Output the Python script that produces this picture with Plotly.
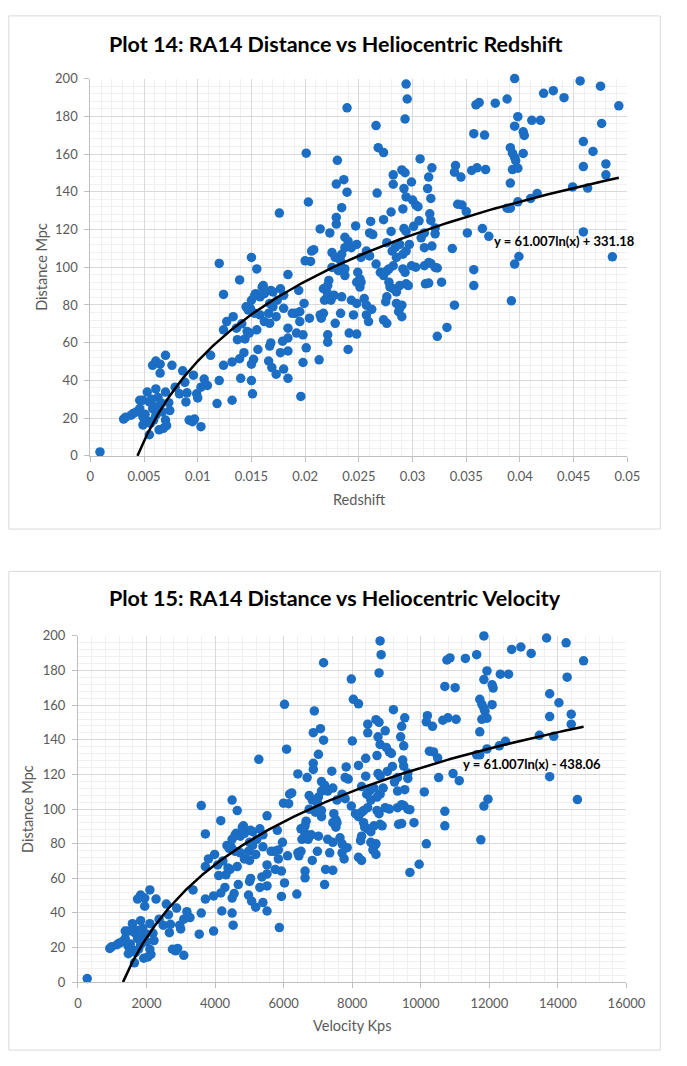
import numpy as np
import plotly.graph_objects as go

# ---------------- data ----------------
# Plot 14: heliocentric redshift (z) vs RA14 distance (Mpc), grouped by redshift band
redshift_a = [0.0009, 0.0031, 0.0033, 0.0038, 0.0040, 0.0043, 0.0046, 0.0046,
              0.0049, 0.0049, 0.0049, 0.0051, 0.0052, 0.0053, 0.0055, 0.0055,
              0.0056, 0.0058, 0.0057, 0.0060, 0.0061, 0.0061, 0.0063, 0.0064,
              0.0064, 0.0066, 0.0067, 0.0068, 0.0070, 0.0071, 0.0070, 0.0073,
              0.0059, 0.0074, 0.0058, 0.0061, 0.0065, 0.0065, 0.0070, 0.0076,
              0.0079, 0.0083, 0.0086, 0.0088, 0.0089, 0.0090, 0.0092, 0.0095,
              0.0096, 0.0097, 0.0099, 0.0100, 0.0103, 0.0103, 0.0106, 0.0109,
              0.0112, 0.0118, 0.0120, 0.0120, 0.0124, 0.0124, 0.0132, 0.0132]
distance_a = [2.1, 19.5, 20.5, 21.6, 22.5, 23.3, 29.5, 25.1,
              20.7, 29.5, 16.4, 22.0, 19.0, 33.8, 28.6, 11.2,
              17.2, 25.1, 30.0, 26.0, 21.6, 35.5, 31.0, 13.8,
              23.7, 28.0, 23.3, 14.6, 19.0, 16.0, 33.8, 28.2,
              19.0, 24.0, 48.0, 50.3, 48.6, 43.9, 53.3, 48.0,
              36.4, 32.9, 45.1, 39.0, 28.6, 33.4, 19.0, 18.1,
              42.8, 19.5, 32.9, 30.7, 15.5, 36.4, 40.7, 37.3,
              53.3, 27.7, 39.9, 102.0, 85.6, 48.0, 29.5, 49.8]

redshift_b = [0.0139, 0.0143, 0.0140, 0.0150, 0.0151, 0.0124, 0.0127, 0.0133,
              0.0136, 0.0137, 0.0139, 0.0141, 0.0144, 0.0146, 0.0149, 0.0145,
              0.0150, 0.0154, 0.0150, 0.0155, 0.0148, 0.0155, 0.0158, 0.0162,
              0.0167, 0.0166, 0.0170, 0.0173, 0.0160, 0.0153, 0.0168, 0.0177,
              0.0161, 0.0158, 0.0162, 0.0170, 0.0180, 0.0174, 0.0167, 0.0147,
              0.0153, 0.0184, 0.0180, 0.0188, 0.0195, 0.0195, 0.0204, 0.0184,
              0.0184, 0.0179, 0.0168, 0.0167, 0.0192, 0.0198, 0.0156, 0.0152,
              0.0150, 0.0177, 0.0184, 0.0166, 0.0169, 0.0173, 0.0180, 0.0184,
              0.0201, 0.0198, 0.0213, 0.0196, 0.0176, 0.0194, 0.0199, 0.0191,
              0.0201, 0.0203, 0.0200, 0.0205, 0.0206, 0.0208]
distance_b = [51.5, 54.7, 41.1, 39.9, 32.9, 66.8, 71.2, 73.8,
              67.7, 61.6, 93.3, 70.0, 62.0, 66.0, 78.2, 79.0,
              82.5, 86.0, 105.2, 99.1, 65.1, 66.8, 74.7, 71.2,
              70.3, 75.6, 79.0, 73.8, 89.5, 85.1, 87.7, 88.6,
              90.3, 84.3, 86.0, 86.9, 85.1, 82.5, 80.8, 77.3,
              75.6, 96.1, 78.2, 75.6, 76.4, 71.2, 73.0, 67.7,
              62.5, 60.8, 59.9, 58.2, 65.1, 64.2, 56.4, 51.2,
              48.6, 54.7, 55.6, 50.3, 46.8, 43.3, 46.0, 41.1,
              57.3, 49.5, 50.9, 31.5, 128.7, 87.7, 80.8, 75.6,
              160.5, 134.6, 103.4, 103.1, 108.6, 109.3]

redshift_c = [0.0214, 0.0223, 0.0229, 0.0229, 0.0237, 0.0240, 0.0243, 0.0248,
              0.0237, 0.0234, 0.0225, 0.0228, 0.0233, 0.0234, 0.0237, 0.0231,
              0.0225, 0.0237, 0.0249, 0.0251, 0.0248, 0.0251, 0.0252, 0.0257,
              0.0260, 0.0252, 0.0247, 0.0239, 0.0230, 0.0236, 0.0229, 0.0239,
              0.0234, 0.0217, 0.0221, 0.0220, 0.0227, 0.0234, 0.0222, 0.0220,
              0.0221, 0.0218, 0.0224, 0.0243, 0.0248, 0.0255, 0.0257, 0.0245,
              0.0257, 0.0259, 0.0262, 0.0214, 0.0217, 0.0215, 0.0221, 0.0221,
              0.0228, 0.0233, 0.0241, 0.0248, 0.0240, 0.0261, 0.0260, 0.0263,
              0.0266, 0.0268, 0.0273, 0.0267]
distance_c = [120.3, 118.2, 126.4, 122.9, 115.9, 113.8, 110.4, 112.1,
              110.4, 106.9, 107.8, 105.2, 103.4, 99.9, 95.6, 98.2,
              99.9, 99.1, 97.3, 93.8, 92.1, 89.5, 92.1, 108.6,
              106.0, 105.2, 121.9, 184.5, 156.7, 146.4, 144.1, 139.8,
              131.6, 88.6, 90.3, 83.4, 85.1, 84.3, 93.0, 89.5,
              86.0, 82.5, 82.5, 82.5, 80.8, 83.4, 79.9, 74.7,
              74.7, 71.2, 77.7, 74.7, 75.6, 73.0, 64.2, 60.3,
              70.3, 75.6, 65.1, 64.6, 56.4, 124.3, 118.2, 117.3,
              175.1, 163.4, 160.8, 139.3]

redshift_d = [0.0294, 0.0295, 0.0293, 0.0307, 0.0318, 0.0315, 0.0282, 0.0290,
              0.0293, 0.0282, 0.0299, 0.0292, 0.0294, 0.0300, 0.0303, 0.0305,
              0.0314, 0.0317, 0.0291, 0.0280, 0.0316, 0.0317, 0.0273, 0.0306,
              0.0280, 0.0292, 0.0294, 0.0301, 0.0308, 0.0321, 0.0318, 0.0276,
              0.0284, 0.0288, 0.0297, 0.0311, 0.0285, 0.0291, 0.0311, 0.0321,
              0.0294, 0.0281, 0.0266, 0.0270, 0.0276, 0.0278, 0.0279, 0.0282,
              0.0288, 0.0294, 0.0293, 0.0299, 0.0303, 0.0311, 0.0315, 0.0321,
              0.0273, 0.0278, 0.0282, 0.0291, 0.0276, 0.0275, 0.0288, 0.0287,
              0.0276, 0.0312, 0.0323, 0.0285, 0.0296, 0.0285, 0.0290, 0.0273,
              0.0290, 0.0317, 0.0323, 0.0315, 0.0327, 0.0339, 0.0332]
distance_d = [197.1, 189.2, 178.6, 157.4, 152.7, 147.8, 149.0, 151.6,
              150.1, 144.0, 145.2, 141.7, 137.3, 135.6, 133.0, 132.1,
              141.7, 136.5, 130.9, 129.3, 128.3, 124.8, 125.2, 124.6,
              119.0, 120.5, 119.0, 121.7, 115.6, 117.7, 111.2, 113.0,
              110.7, 112.1, 112.1, 110.4, 105.2, 106.9, 118.2, 120.8,
              108.6, 108.6, 101.7, 97.3, 98.1, 92.1, 89.5, 88.6,
              90.3, 91.2, 97.3, 100.8, 100.0, 100.8, 102.5, 99.9,
              95.6, 99.1, 100.8, 99.1, 84.3, 81.7, 78.2, 76.4,
              70.3, 91.2, 63.4, 86.9, 90.3, 80.8, 79.9, 72.1,
              73.8, 102.0, 99.6, 91.6, 92.1, 79.9, 68.1]

redshift_e = [0.0357, 0.0357, 0.0392, 0.0399, 0.0395, 0.0486, 0.0351, 0.0365,
              0.0371, 0.0337, 0.0459, 0.0342, 0.0346, 0.0350, 0.0388, 0.0391,
              0.0398, 0.0410, 0.0416, 0.0449, 0.0463, 0.0391, 0.0340, 0.0339,
              0.0345, 0.0355, 0.0360, 0.0368, 0.0393, 0.0398, 0.0459, 0.0480,
              0.0480, 0.0391, 0.0393, 0.0395, 0.0396, 0.0403, 0.0468, 0.0459,
              0.0357, 0.0367, 0.0403, 0.0404, 0.0395, 0.0398, 0.0411, 0.0419,
              0.0476, 0.0359, 0.0362, 0.0377, 0.0388, 0.0422, 0.0431, 0.0441,
              0.0492, 0.0395, 0.0456, 0.0475]
distance_e = [98.7, 90.3, 82.2, 105.7, 101.7, 105.5, 118.2, 120.5,
              116.4, 109.9, 118.7, 133.4, 133.0, 129.5, 131.3, 131.3,
              134.7, 136.5, 139.1, 142.6, 142.0, 144.6, 153.9, 150.4,
              147.8, 151.3, 152.7, 151.8, 151.8, 152.5, 153.4, 154.8,
              149.0, 163.4, 160.5, 158.2, 156.5, 160.3, 161.4, 166.6,
              170.8, 170.1, 171.8, 169.9, 174.8, 179.8, 177.9, 177.9,
              176.2, 186.1, 187.3, 187.0, 189.2, 192.2, 193.6, 189.9,
              185.6, 200.0, 198.8, 196.0]

redshift = redshift_a + redshift_b + redshift_c + redshift_d + redshift_e
distance_mpc = distance_a + distance_b + distance_c + distance_d + distance_e
assert len(redshift) == len(distance_mpc)

# Plot 15 shows the same galaxies with heliocentric velocity = c * z (unit conversion)
SPEED_OF_LIGHT_KMS = 299792.458
velocity_kps = [z * SPEED_OF_LIGHT_KMS for z in redshift]

# Excel logarithmic trendlines printed on the chart
trend14_slope, trend14_intercept = 61.007, 331.18
trend15_slope, trend15_intercept = 61.007, -438.06
trend14_label = "y = 61.007ln(x) + 331.18"
trend15_label = "y = 61.007ln(x) - 438.06"

title14 = "Plot 14: RA14 Distance vs Heliocentric Redshift"
title15 = "Plot 15: RA14 Distance vs Heliocentric Velocity"

x14_ticks = [0, 0.005, 0.01, 0.015, 0.02, 0.025, 0.03, 0.035, 0.04, 0.045, 0.05]
x14_labels = ["0", "0.005", "0.01", "0.015", "0.02", "0.025", "0.03", "0.035", "0.04", "0.045", "0.05"]
x15_ticks = [0, 2000, 4000, 6000, 8000, 10000, 12000, 14000, 16000]
x15_labels = ["0", "2000", "4000", "6000", "8000", "10000", "12000", "14000", "16000"]
y_ticks = [0, 20, 40, 60, 80, 100, 120, 140, 160, 180, 200]
y_labels = [str(v) for v in y_ticks]

# ---------------- figure ----------------
W, H = 687, 1066
BLUE = "#1B6EC3"
GRID = "#D9D9D9"
MINOR = "#F0F0F0"
AXIS = "#BFBFBF"
TXT = "#595959"
FONT = "Lato, 'Open Sans', sans-serif"


def fx(p):
    return p / W


def fy(p):
    return 1 - p / H


def trend_curve(slope, intercept, xmax):
    x0 = np.exp(-intercept / slope)
    xs = np.geomspace(x0, xmax, 200)
    return xs, slope * np.log(xs) + intercept


fig = go.Figure()
fig.add_trace(go.Scatter(x=redshift, y=distance_mpc, mode="markers",
                         marker=dict(size=9.5, color=BLUE), cliponaxis=False,
                         xaxis="x", yaxis="y", showlegend=False))
tx, ty = trend_curve(trend14_slope, trend14_intercept, max(redshift))
fig.add_trace(go.Scatter(x=tx, y=ty, mode="lines", line=dict(color="black", width=2.5),
                         xaxis="x", yaxis="y", showlegend=False, hoverinfo="skip"))

fig.add_trace(go.Scatter(x=velocity_kps, y=distance_mpc, mode="markers",
                         marker=dict(size=9.5, color=BLUE), cliponaxis=False,
                         xaxis="x2", yaxis="y2", showlegend=False))
tx2, ty2 = trend_curve(trend15_slope, trend15_intercept, max(velocity_kps))
fig.add_trace(go.Scatter(x=tx2, y=ty2, mode="lines", line=dict(color="black", width=2.5),
                         xaxis="x2", yaxis="y2", showlegend=False, hoverinfo="skip"))

common_axis = dict(showgrid=True, gridcolor=GRID, gridwidth=1, zeroline=False,
                   showline=True, linecolor=AXIS, linewidth=1,
                   ticks="outside", ticklen=5, tickcolor=AXIS,
                   tickfont=dict(family=FONT, size=13, color=TXT),
                   ticklabelstandoff=4, tickmode="array")

fig.update_layout(
    width=W, height=H, margin=dict(l=0, r=0, t=0, b=0),
    paper_bgcolor="white", plot_bgcolor="white",
    xaxis=dict(common_axis, domain=[fx(89.3), fx(645)], range=[0, 0.05], anchor="y",
               tickvals=x14_ticks, ticktext=x14_labels,
               minor=dict(tick0=0, dtick=0.001, showgrid=True, gridcolor=MINOR)),
    yaxis=dict(common_axis, domain=[fy(454.7), fy(71.7)], range=[0, 200], anchor="x",
               tickvals=y_ticks, ticktext=y_labels,
               minor=dict(tick0=0, dtick=4, showgrid=True, gridcolor=MINOR)),
    xaxis2=dict(common_axis, domain=[fx(76.5), fx(644)], range=[0, 16000], anchor="y2",
                tickvals=x15_ticks, ticktext=x15_labels,
                minor=dict(tick0=0, dtick=400, showgrid=True, gridcolor=MINOR)),
    yaxis2=dict(common_axis, domain=[fy(989), fy(637.5)], range=[0, 200], anchor="x2",
                tickvals=y_ticks, ticktext=y_labels,
                minor=dict(tick0=0, dtick=4, showgrid=True, gridcolor=MINOR)),
)

# chart-area borders
for top, bottom in [(8, 529), (572, 1058)]:
    fig.add_shape(type="rect", xref="paper", yref="paper",
                  x0=fx(5), x1=fx(679), y0=fy(bottom), y1=fy(top),
                  line=dict(color=GRID, width=1), fillcolor="rgba(0,0,0,0)", layer="below")

ann = []
ann.append(dict(text="<b>" + title14 + "</b>", x=fx(344), y=fy(37),
                font=dict(family=FONT, size=21.5, color="black")))
ann.append(dict(text="<b>" + title15 + "</b>", x=fx(342), y=fy(599),
                font=dict(family=FONT, size=21.5, color="black")))
ann.append(dict(text="Redshift", x=fx(367), y=fy(499), font=dict(family=FONT, size=14.5, color=TXT)))
ann.append(dict(text="Velocity Kps", x=fx(360), y=fy(1033), font=dict(family=FONT, size=14.5, color=TXT)))
ann.append(dict(text="Distance Mpc", x=fx(38), y=fy(263), textangle=-90,
                font=dict(family=FONT, size=14.5, color=TXT)))
ann.append(dict(text="Distance Mpc", x=fx(25), y=fy(813), textangle=-90,
                font=dict(family=FONT, size=14.5, color=TXT)))
ann.append(dict(text="<b>" + trend14_label + "</b>", x=fx(505), y=fy(237), xanchor="left",
                font=dict(family=FONT, size=13, color="black")))
ann.append(dict(text="<b>" + trend15_label + "</b>", x=fx(473), y=fy(768), xanchor="left",
                font=dict(family=FONT, size=13, color="black")))
for a in ann:
    a.setdefault("xanchor", "center")
    a.update(xref="paper", yref="paper", yanchor="middle", showarrow=False)
fig.update_layout(annotations=ann)

fig.write_html("out.html",
               config={"displayModeBar": False},
               post_script="document.body.style.margin='0';document.body.style.padding='0';"
                           "document.documentElement.style.overflow='hidden';")
